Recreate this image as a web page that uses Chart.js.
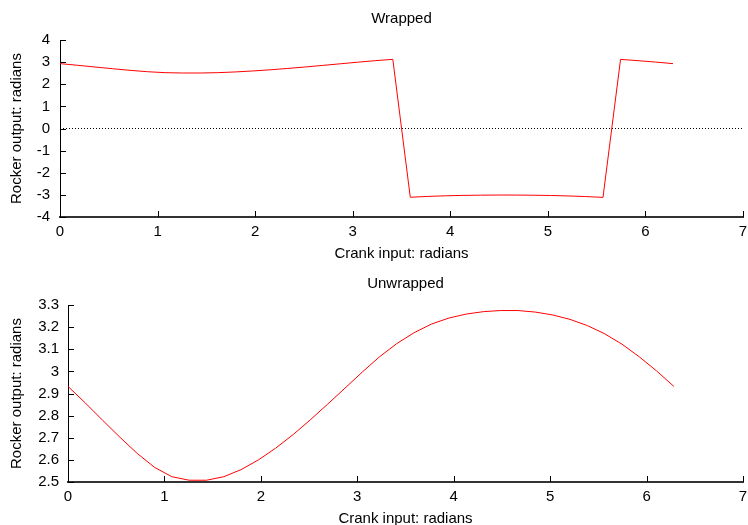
<!DOCTYPE html>
<html>
<head>
<meta charset="utf-8">
<script src="https://cdn.jsdelivr.net/npm/chart.js@4/dist/chart.umd.min.js"></script>
<style>
  html, body { margin: 0; padding: 0; background: #fff; overflow: hidden; width: 748px; height: 525px; }
  canvas { position: absolute; left: 0; }
  #c1 { top: 0; }
  #c2 { top: 265px; }
</style>
</head>
<body>
<canvas id="c1" width="748" height="265"></canvas>
<canvas id="c2" width="748" height="265"></canvas>
<script>
// ---- data ----
const crankInput = [0, 0.180, 0.359, 0.539, 0.718, 0.898, 1.077, 1.257, 1.436, 1.616,
  1.795, 1.975, 2.154, 2.334, 2.513, 2.693, 2.872, 3.052, 3.231, 3.411,
  3.590, 3.770, 3.950, 4.129, 4.309, 4.488, 4.668, 4.847, 5.027, 5.206,
  5.386, 5.565, 5.745, 5.924, 6.104, 6.283];

const wrappedOutput = [2.932, 2.857, 2.779, 2.702, 2.629, 2.566, 2.524, 2.508, 2.508, 2.524,
  2.556, 2.600, 2.653, 2.714, 2.781, 2.852, 2.924, 2.997, 3.066, 3.126,
  -3.108, -3.069, -3.042, -3.024, -3.013, -3.008, -3.008, -3.015, -3.028, -3.048,
  -3.076, -3.113, 3.123, 3.066, 3.002, 2.932];

const unwrappedOutput = [2.932, 2.857, 2.779, 2.702, 2.629, 2.566, 2.524, 2.508, 2.508, 2.524,
  2.556, 2.600, 2.653, 2.714, 2.781, 2.852, 2.924, 2.997, 3.066, 3.126,
  3.175, 3.214, 3.241, 3.259, 3.270, 3.275, 3.275, 3.268, 3.255, 3.235,
  3.207, 3.170, 3.123, 3.066, 3.002, 2.932];

const zeroLineX = [0, 7];
const zeroLineY = [0, 0];

const xTickLabels = ['0', '1', '2', '3', '4', '5', '6', '7'];
const wrappedYTickLabels = ['-4', '-3', '-2', '-1', '0', '1', '2', '3', '4'];
const unwrappedYTickLabels = ['2.5', '2.6', '2.7', '2.8', '2.9', '3', '3.1', '3.2', '3.3'];

const titles = ['Wrapped', 'Unwrapped'];
const xTitle = 'Crank input: radians';
const yTitle = 'Rocker output: radians';

// ---- helpers ----
const FONT = '"Liberation Sans", Arial, Helvetica, sans-serif';
function pts(xs, ys) { return xs.map((x, i) => ({ x: x, y: ys[i] })); }
function labelFor(list, v) {
  const f = list.find(l => Math.abs(parseFloat(l) - v) < 1e-6);
  return f !== undefined ? f : '';
}

const inwardTicks = {
  id: 'inwardTicks',
  afterDraw(chart) {
    const ctx = chart.ctx, a = chart.chartArea;
    const xs = chart.scales.x, ys = chart.scales.y;
    ctx.save();
    ctx.strokeStyle = '#000';
    ctx.lineWidth = 1;
    ctx.beginPath();
    xs.ticks.forEach(t => {
      const px = Math.round(xs.getPixelForValue(t.value)) + 0.5;
      ctx.moveTo(px, a.bottom);
      ctx.lineTo(px, a.bottom - 6);
    });
    ys.ticks.forEach(t => {
      const py = Math.round(ys.getPixelForValue(t.value)) + 0.5;
      ctx.moveTo(a.left, py);
      ctx.lineTo(a.left + 6, py);
    });
    ctx.stroke();
    ctx.restore();
  }
};

function makeChart(id, title, values, yMin, yMax, yStep, yLabels, yWidth, yPad, withZero) {
  const datasets = [];
  if (withZero) {
    datasets.push({
      data: pts(zeroLineX, zeroLineY),
      borderColor: '#000', borderWidth: 1, borderDash: [1, 2],
      pointRadius: 0, fill: false
    });
  }
  datasets.push({
    data: pts(crankInput, values),
    borderColor: '#ff0000', borderWidth: 1,
    pointRadius: 0, fill: false, tension: 0
  });
  return new Chart(document.getElementById(id), {
    type: 'line',
    data: { datasets: datasets },
    plugins: [inwardTicks],
    options: {
      responsive: false,
      animation: false,
      devicePixelRatio: 1,
      layout: { padding: { left: 0, right: 5, top: 0, bottom: 2 } },
      plugins: {
        legend: { display: false },
        tooltip: { enabled: false },
        title: {
          display: true, text: title, fullSize: false,
          color: '#000', font: { family: FONT, size: 15, weight: 'normal' },
          padding: { top: 9.5, bottom: 12.5 }
        }
      },
      scales: {
        x: {
          type: 'linear', min: 0, max: 7,
          grid: { display: false, drawTicks: false },
          border: { display: true, color: '#333', width: 2 },
          ticks: {
            stepSize: 1, padding: 6, color: '#000', maxRotation: 0,
            font: { family: FONT, size: 15 },
            callback: v => labelFor(xTickLabels, v)
          },
          title: {
            display: true, text: xTitle, color: '#000',
            font: { family: FONT, size: 15 }, padding: { top: 0, bottom: 0 }
          },
          afterFit: s => { s.height = 46; s.paddingLeft = 0; s.paddingRight = 0; }
        },
        y: {
          type: 'linear', min: yMin, max: yMax,
          grid: { display: false, drawTicks: false },
          border: { display: true, color: '#000', width: 1 },
          ticks: {
            stepSize: yStep, padding: yPad, color: '#000',
            font: { family: FONT, size: 15 },
            callback: v => labelFor(yLabels, v)
          },
          title: {
            display: true, text: yTitle, color: '#000',
            font: { family: FONT, size: 15 }, padding: { top: 8, bottom: 0 }
          },
          afterFit: s => { s.width = yWidth; }
        }
      }
    }
  });
}

makeChart('c1', titles[0], wrappedOutput, -4, 4, 1, wrappedYTickLabels, 60, 10, true);
makeChart('c2', titles[1], unwrappedOutput, 2.5, 3.3, 0.1, unwrappedYTickLabels, 68, 9, false);
</script>
</body>
</html>
